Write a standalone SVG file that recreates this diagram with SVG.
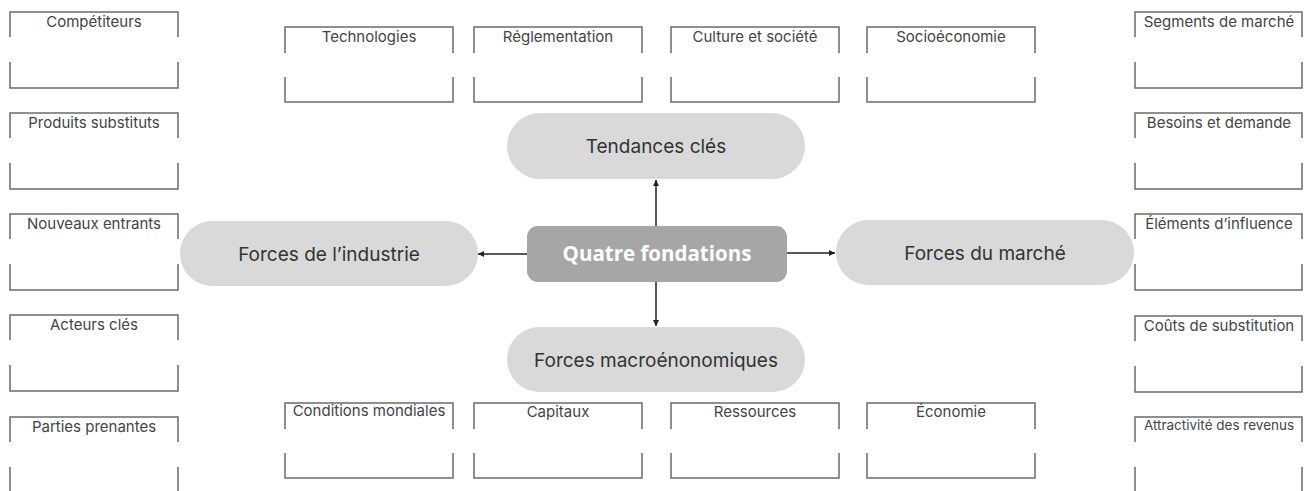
<svg xmlns="http://www.w3.org/2000/svg" width="1304" height="491" viewBox="0 0 1304 491">
<defs>
<style>
.bx{fill:none;stroke:#6b6b6b;stroke-width:1.5}
.bl{font-family:Inter,"Liberation Sans",sans-serif;font-size:15px;fill:#444;text-anchor:middle}
.pill{fill:#d9d9d9}
.pl{font-family:Inter,"Liberation Sans",sans-serif;font-size:19px;fill:#333;text-anchor:middle;dominant-baseline:central}
.core{fill:#a6a6a6}
.cl{font-family:"Open Sans","Liberation Sans",sans-serif;font-weight:bold;font-size:20.5px;fill:#fff;text-anchor:middle;dominant-baseline:central}
.cn{stroke:#222;stroke-width:1.5;fill:none;marker-end:url(#ah)}
</style>
<marker id="ah" markerUnits="userSpaceOnUse" markerWidth="8" markerHeight="8" refX="6" refY="4" orient="auto">
<path d="M0,1 L6,4 L0,7 Z" fill="#222"/>
</marker>
</defs>

<g id="connectors">
<path class="cn" d="M527,254 H478"/>
<path class="cn" d="M787,253 H835"/>
<path class="cn" d="M656,226 V180"/>
<path class="cn" d="M656,282 V326"/>
</g>

<g id="quatre-fondations"><rect class="core" x="527" y="226" width="260" height="56" rx="11"/><text class="cl" x="657" y="253">Quatre fondations</text></g>
<g id="tendances-cles"><rect class="pill" x="507" y="113" width="298" height="66" rx="33"/><text class="pl" x="656" y="146">Tendances clés</text></g>
<g id="forces-macro"><rect class="pill" x="507" y="327" width="298" height="65" rx="32.5"/><text class="pl" x="656" y="360">Forces macroénonomiques</text></g>
<g id="forces-industrie"><rect class="pill" x="180" y="221" width="298" height="65" rx="32.5"/><text class="pl" x="329" y="254">Forces de l’industrie</text></g>
<g id="forces-marche"><rect class="pill" x="836" y="220" width="298" height="65" rx="32.5"/><text class="pl" x="985" y="253">Forces du marché</text></g>

<!-- left column -->
<g id="competiteurs"><path class="bx" d="M10,37 V12 H178 V37 M10,62 V88 H178 V62"/><text class="bl" x="94" y="27">Compétiteurs</text></g>
<g id="produits-substituts"><path class="bx" d="M10,138 V113 H178 V138 M10,163 V189 H178 V163"/><text class="bl" x="94" y="128">Produits substituts</text></g>
<g id="nouveaux-entrants"><path class="bx" d="M10,239 V214 H178 V239 M10,264 V290 H178 V264"/><text class="bl" x="94" y="229">Nouveaux entrants</text></g>
<g id="acteurs-cles"><path class="bx" d="M10,340 V315 H178 V340 M10,365 V391 H178 V365"/><text class="bl" x="94" y="330">Acteurs clés</text></g>
<g id="parties-prenantes"><path class="bx" d="M10,442 V417 H178 V442 M10,467 V493 H178 V467"/><text class="bl" x="94" y="432">Parties prenantes</text></g>

<!-- right column -->
<g id="segments"><path class="bx" d="M1135,37 V12 H1302 V37 M1135,62 V88 H1302 V62"/><text class="bl" x="1219" y="27">Segments de marché</text></g>
<g id="besoins"><path class="bx" d="M1135,138 V113 H1302 V138 M1135,163 V189 H1302 V163"/><text class="bl" x="1219" y="128">Besoins et demande</text></g>
<g id="elements"><path class="bx" d="M1135,239 V214 H1302 V239 M1135,264 V290 H1302 V264"/><text class="bl" x="1219" y="229">Éléments d’influence</text></g>
<g id="couts"><path class="bx" d="M1135,341 V316 H1302 V341 M1135,366 V392 H1302 V366"/><text class="bl" x="1219" y="331">Coûts de substitution</text></g>
<g id="attractivite"><path class="bx" d="M1135,442 V417 H1302 V442 M1135,467 V493 H1302 V467"/><text class="bl" x="1219" y="430" style="font-size:13.5px">Attractivité des revenus</text></g>

<!-- top row -->
<g id="technologies"><path class="bx" d="M285,53 V27 H453 V53 M285,77 V102 H453 V77"/><text class="bl" x="369" y="42">Technologies</text></g>
<g id="reglementation"><path class="bx" d="M474,53 V27 H642 V53 M474,77 V102 H642 V77"/><text class="bl" x="558" y="42">Réglementation</text></g>
<g id="culture"><path class="bx" d="M671,53 V27 H839 V53 M671,77 V102 H839 V77"/><text class="bl" x="755" y="42">Culture et société</text></g>
<g id="socioeconomie"><path class="bx" d="M867,53 V27 H1035 V53 M867,77 V102 H1035 V77"/><text class="bl" x="951" y="42">Socioéconomie</text></g>

<!-- bottom row -->
<g id="conditions"><path class="bx" d="M285,429 V403 H453 V429 M285,453 V478 H453 V453"/><text class="bl" x="369" y="416">Conditions mondiales</text></g>
<g id="capitaux"><path class="bx" d="M474,429 V403 H642 V429 M474,453 V478 H642 V453"/><text class="bl" x="558" y="417">Capitaux</text></g>
<g id="ressources"><path class="bx" d="M671,429 V403 H839 V429 M671,453 V478 H839 V453"/><text class="bl" x="755" y="417">Ressources</text></g>
<g id="economie"><path class="bx" d="M867,429 V403 H1035 V429 M867,453 V478 H1035 V453"/><text class="bl" x="951" y="417">Économie</text></g>
</svg>
